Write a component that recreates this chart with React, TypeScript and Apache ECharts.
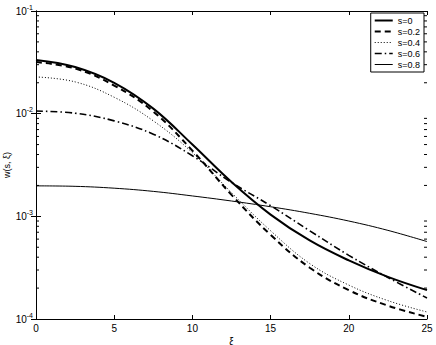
import React, { useEffect, useRef } from "react";
import * as echarts from "echarts";

const xs = [0, 2.5, 5, 7.5, 10, 12.5, 15, 17.5, 20, 22.5, 25];
const s00 = [0.0334, 0.0285, 0.02, 0.0112, 0.00501, 0.00216, 0.00104, 0.000582, 0.000372, 0.000257, 0.000191];
const s02 = [0.0318, 0.0275, 0.0188, 0.01047, 0.00437, 0.00162, 0.00066, 0.000316, 0.000191, 0.000135, 0.000105];
const s04 = [0.0228, 0.0204, 0.01445, 0.00851, 0.00417, 0.0017, 0.000724, 0.000347, 0.000214, 0.000151, 0.000117];
const s06 = [0.0106, 0.0101, 0.00851, 0.00631, 0.00389, 0.00214, 0.00127, 0.000724, 0.000417, 0.000254, 0.00016];
const s08 = [0.00198, 0.00196, 0.00188, 0.00175, 0.00158, 0.00141, 0.00124, 0.00107, 0.0009, 0.00073, 0.000568];
const seriesNames = ["s=0", "s=0.2", "s=0.4", "s=0.6", "s=0.8"];
const minorTicks: number[] = [];
[1e-4, 1e-3, 1e-2].forEach((d) => {
  for (let k = 2; k <= 9; k++) minorTicks.push(d * k);
});

const styles = [
  { width: 2, type: "solid" as any },
  { width: 2, type: [6, 4] as any },
  { width: 1, type: [1, 2] as any },
  { width: 1.6, type: [7, 3, 1.5, 3] as any },
  { width: 1, type: "solid" as any },
];

export default function App() {
  const ref = useRef<HTMLDivElement>(null);
  useEffect(() => {
    if (!ref.current) return;
    const chart = echarts.init(ref.current, null, { renderer: "svg" });
    const all = [s00, s02, s04, s06, s08];
    const lineSeries = all.map((arr, i) => ({
      name: seriesNames[i],
      type: "line",
      data: xs.map((x, j) => [x, arr[j]]),
      smooth: 0.4,
      showSymbol: false,
      symbol: "none",
      lineStyle: { color: "#000", width: styles[i].width, type: styles[i].type },
      itemStyle: { color: "#000" },
      z: 3,
    }));
    const font = "Liberation Sans, Arial, sans-serif";
    chart.setOption({
      animation: false,
      backgroundColor: "#fff",
      textStyle: { fontFamily: font },
      grid: { left: 36, right: 9, top: 11, bottom: 26, show: false, outerBoundsMode: "none", containLabel: false },
      legend: {
        orient: "vertical",
        right: 12,
        top: 13,
        itemWidth: 18,
        itemHeight: 8,
        itemGap: 2,
        padding: [3, 4, 3, 3],
        borderColor: "#000",
        borderWidth: 1,
        backgroundColor: "#fff",
        itemStyle: { opacity: 0 },
        textStyle: { fontSize: 9, color: "#000", fontFamily: font },
        data: seriesNames.map((n, i) => ({
          name: n,
          lineStyle: { width: styles[i].width, type: styles[i].type, color: "#000" },
        })),
      },
      xAxis: [
        {
          type: "value",
          min: 0,
          max: 25,
          interval: 5,
          name: "ξ",
          nameLocation: "middle",
          nameGap: 17,
          nameMoveOverlap: false,
          nameTextStyle: { fontSize: 10, color: "#000" },
          axisLine: { lineStyle: { color: "#000", width: 1 } },
          axisTick: { inside: true, length: 4, lineStyle: { color: "#000" } },
          axisLabel: { fontSize: 10, color: "#000", margin: 4 },
          splitLine: { show: false },
        },
        {
          type: "value",
          position: "top",
          min: 0,
          max: 25,
          interval: 5,
          axisLine: { lineStyle: { color: "#000", width: 1 } },
          axisTick: { inside: true, length: 4, lineStyle: { color: "#000" } },
          axisLabel: { show: false },
          splitLine: { show: false },
        },
      ],
      yAxis: [
        {
          type: "log",
          logBase: 10,
          min: 1e-4,
          max: 1e-1,
          name: "w(s, ξ)",
          nameLocation: "middle",
          nameGap: 25,
          nameMoveOverlap: false,
          nameTextStyle: { fontSize: 9, color: "#000" },
          axisLine: { show: true, lineStyle: { color: "#000", width: 1 } },
          axisTick: { inside: true, length: 5, lineStyle: { color: "#000" } },
          axisLabel: {
            color: "#000",
            margin: 3,
            formatter: (v: number) => `{b|10}{s|${Math.round(Math.log10(v))}}`,
            rich: {
              b: { fontSize: 10, color: "#000", fontFamily: font },
              s: { fontSize: 7, color: "#000", fontFamily: font, padding: [0, 0, 8, 0] },
            },
          },
          splitLine: { show: false },
        },
        {
          type: "log",
          logBase: 10,
          min: 1e-4,
          max: 1e-1,
          position: "right",
          axisLine: { show: true, lineStyle: { color: "#000", width: 1 } },
          axisTick: { inside: true, length: 5, lineStyle: { color: "#000" } },
          axisLabel: { show: false },
          splitLine: { show: false },
        },
      ],
      series: [
        ...lineSeries,
        {
          type: "custom",
          silent: true,
          data: minorTicks.map((v) => [0, v]),
          renderItem: (params: any, api: any) => {
            const v = api.value(1);
            const l = api.coord([0, v]);
            const r = api.coord([25, v]);
            return {
              type: "group",
              children: [
                { type: "line", shape: { x1: l[0], y1: l[1], x2: l[0] + 3, y2: l[1] }, style: { stroke: "#000", lineWidth: 1 } },
                { type: "line", shape: { x1: r[0], y1: r[1], x2: r[0] - 3, y2: r[1] }, style: { stroke: "#000", lineWidth: 1 } },
              ],
            };
          },
          z: 1,
        },
      ],
    });
    return () => chart.dispose();
  }, []);
  return <div ref={ref} style={{ position: "absolute", left: 0, top: 0, width: 436, height: 345 }} />;
}
